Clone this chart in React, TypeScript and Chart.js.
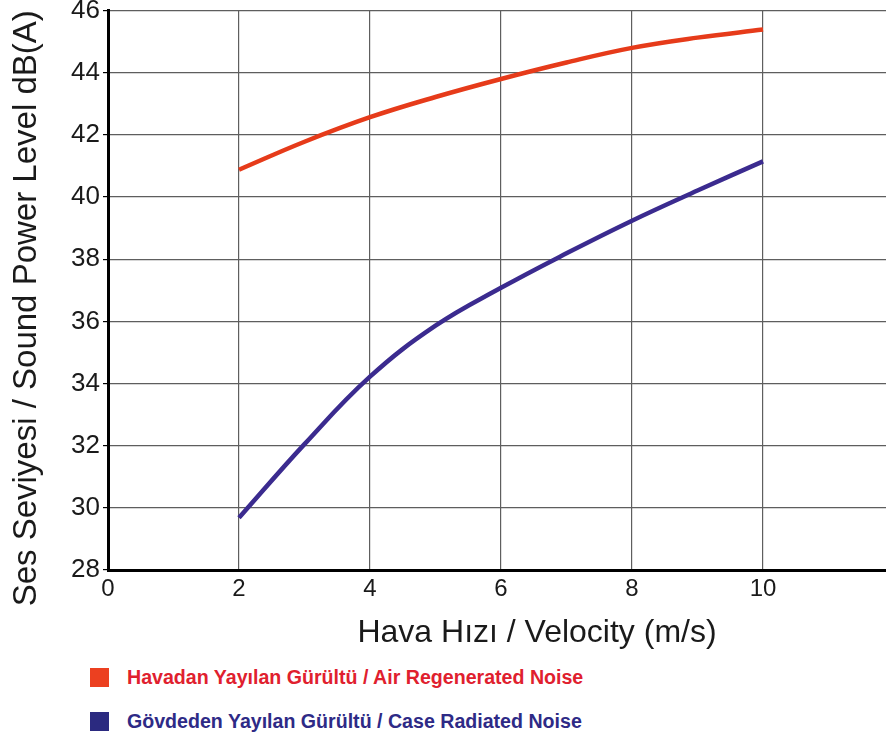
import React, { useEffect, useRef } from 'react';
import { Chart, registerables } from 'chart.js';

Chart.register(...registerables);

const velocities = [2, 3, 4, 5, 6, 7, 8, 9, 10];
const airNoise = [40.88, 41.78, 42.57, 43.22, 43.8, 44.33, 44.8, 45.13, 45.39];
const caseNoise = [29.68, 32.05, 34.22, 35.86, 37.08, 38.19, 39.24, 40.21, 41.15];
const xTickValues = [0, 2, 4, 6, 8, 10];
const yTickValues = [28, 30, 32, 34, 36, 38, 40, 42, 44, 46];

const airLabel = 'Havadan Yayılan Gürültü / Air Regenerated Noise';
const caseLabel = 'Gövdeden Yayılan Gürültü / Case Radiated Noise';
const xTitle = 'Hava Hızı / Velocity (m/s)';
const yTitle = 'Ses Seviyesi / Sound Power Level dB(A)';

const FONT = '"Liberation Sans", Arial, Helvetica, sans-serif';
const RED = '#e63b1a';
const BLUE = '#3b2b8f';

const titlePlugin = {
  id: 'axisTitles',
  afterDraw(chart: any) {
    const { ctx, chartArea, scales } = chart;
    ctx.save();
    ctx.fillStyle = '#1a1a1a';
    ctx.textAlign = 'center';
    ctx.textBaseline = 'middle';
    ctx.font = `32px ${FONT}`;
    ctx.fillText(xTitle, scales.x.getPixelForValue(6.55), chartArea.bottom + 63);
    ctx.translate(27, (chartArea.top + chartArea.bottom) / 2 + 18);
    ctx.rotate(-Math.PI / 2);
    ctx.font = `33px ${FONT}`;
    ctx.fillText(yTitle, 0, 0);
    ctx.restore();
  },
};

function NoiseChart() {
  const ref = useRef<HTMLCanvasElement | null>(null);
  useEffect(() => {
    if (!ref.current) return;
    const chart = new Chart(ref.current, {
      type: 'line',
      data: {
        labels: velocities,
        datasets: [
          {
            label: airLabel,
            data: velocities.map((v, i) => ({ x: v, y: airNoise[i] })),
            borderColor: RED,
            backgroundColor: RED,
            borderWidth: 4.5,
            pointRadius: 0,
            tension: 0.4,
            borderCapStyle: 'butt',
          },
          {
            label: caseLabel,
            data: velocities.map((v, i) => ({ x: v, y: caseNoise[i] })),
            borderColor: BLUE,
            backgroundColor: BLUE,
            borderWidth: 4.5,
            pointRadius: 0,
            tension: 0.4,
            borderCapStyle: 'butt',
          },
        ],
      },
      options: {
        animation: false,
        responsive: true,
        maintainAspectRatio: false,
        layout: { padding: 0 },
        plugins: {
          legend: { display: false },
          tooltip: { enabled: false },
          title: { display: false },
        },
        scales: {
          x: {
            type: 'linear',
            min: 0,
            max: 12,
            afterBuildTicks: (scale: any) => {
              scale.ticks = xTickValues.map((v) => ({ value: v }));
            },
            afterFit: (scale: any) => {
              scale.height = 90;
            },
            grid: { color: '#5e5e5e', lineWidth: 1.2, drawTicks: false },
            border: { color: '#000', width: 3 },
            ticks: {
              color: '#1a1a1a',
              font: { family: FONT, size: 24 },
              padding: 5,
              maxRotation: 0,
            },
          },
          y: {
            type: 'linear',
            min: 28,
            max: 46,
            afterBuildTicks: (scale: any) => {
              scale.ticks = yTickValues.map((v) => ({ value: v }));
            },
            afterFit: (scale: any) => {
              scale.width = 108;
            },
            grid: { color: '#5e5e5e', lineWidth: 1.2, tickLength: 5, tickColor: '#000' },
            border: { color: '#000', width: 3 },
            ticks: {
              color: '#1a1a1a',
              font: { family: FONT, size: 26 },
              padding: 3,
            },
          },
        },
      },
      plugins: [titlePlugin],
    } as any);
    return () => chart.destroy();
  }, []);
  return <canvas ref={ref} />;
}

function LegendRow({ color, textColor, text, top }: { color: string; textColor: string; text: string; top: number }) {
  return (
    <div style={{ position: 'absolute', left: 90, top, height: 19, display: 'flex', alignItems: 'center' }}>
      <div style={{ width: 19, height: 19, background: color }} />
      <span
        style={{
          marginLeft: 18,
          fontFamily: FONT,
          fontWeight: 'bold',
          fontSize: 19.6,
          color: textColor,
          whiteSpace: 'nowrap',
          lineHeight: '19px',
        }}
      >
        {text}
      </span>
    </div>
  );
}

export default function App() {
  return (
    <div
      style={{
        position: 'absolute',
        left: 0,
        top: 0,
        width: 886,
        height: 743,
        overflow: 'hidden',
        background: '#fff',
      }}
    >
      <div style={{ position: 'absolute', left: 0, top: -8, width: 894, height: 668 }}>
        <NoiseChart />
      </div>
      <LegendRow color="#ec4020" textColor="#e0202e" text={airLabel} top={668} />
      <LegendRow color="#2b2a80" textColor="#2e2a86" text={caseLabel} top={712} />
    </div>
  );
}
